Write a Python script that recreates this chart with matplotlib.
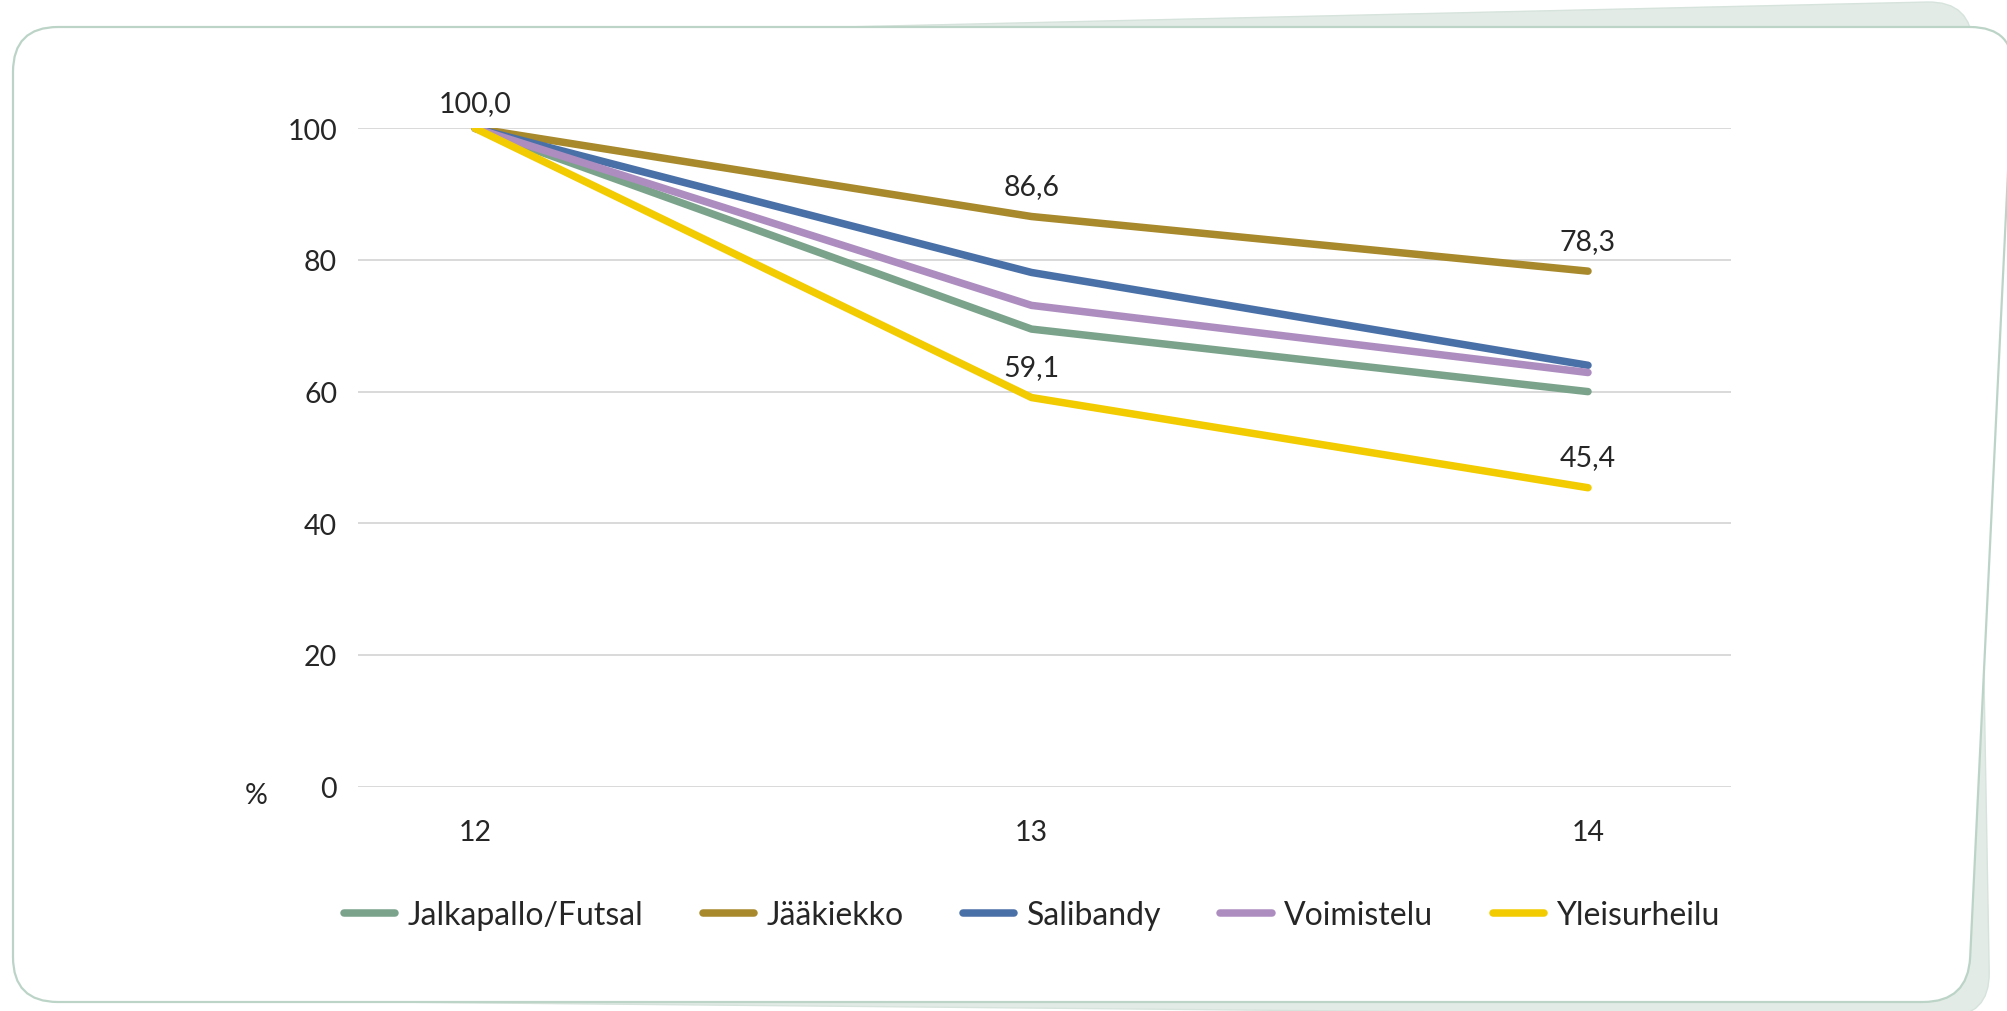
import matplotlib
matplotlib.use("Agg")
import matplotlib.pyplot as plt
import numpy as np
from matplotlib.path import Path
from matplotlib.patches import PathPatch
from matplotlib.lines import Line2D

plt.rcParams['font.family'] = ['Lato', 'DejaVu Sans']

# --- data -------------------------------------------------------------
ages = [12, 13, 14]
series_names = ["Jalkapallo/Futsal", "Jääkiekko", "Salibandy", "Voimistelu", "Yleisurheilu"]
jalkapallo = [100.0, 69.5, 60.0]
jaakiekko = [100.0, 86.6, 78.3]
salibandy = [100.0, 78.1, 64.0]
voimistelu = [100.0, 73.1, 62.9]
yleisurheilu = [100.0, 59.1, 45.4]
series_values = [jalkapallo, jaakiekko, salibandy, voimistelu, yleisurheilu]
series_colors = ["#7ba38b", "#a8892b", "#4a70a8", "#ad8dc0", "#f2cc00"]
y_ticks = [0, 20, 40, 60, 80, 100]

# labelled points: (series index, point index, vertical offset in points)
labelled = [(4, 0, 18), (1, 1, 22), (1, 2, 22), (4, 1, 22), (4, 2, 22)]

W, H = 2008, 1012
FS = 20.5
fig = plt.figure(figsize=(W / 100, H / 100), dpi=100)
fig.patch.set_facecolor("white")


def rounded_path(pts, r):
    """Closed path through pixel corners (y down) with rounded corners."""
    pts = [np.array(p, float) for p in pts]
    n = len(pts)
    verts, codes = [], []
    for i in range(n):
        p, prev, nxt = pts[i], pts[i - 1], pts[(i + 1) % n]
        a = p + r * (prev - p) / np.linalg.norm(prev - p)
        b = p + r * (nxt - p) / np.linalg.norm(nxt - p)
        verts.append(a)
        codes.append(Path.MOVETO if i == 0 else Path.LINETO)
        verts += [p, b]
        codes += [Path.CURVE3, Path.CURVE3]
    verts.append(verts[0]); codes.append(Path.CLOSEPOLY)
    verts = np.array(verts)
    verts[:, 0] /= W
    verts[:, 1] = 1 - verts[:, 1] / H
    return Path(verts, codes)


# card behind (tilted) and card in front
back = PathPatch(rounded_path([(60, 46), (1972, 2), (1990, 1018), (60, 1000)], 45),
                 transform=fig.transFigure, facecolor="#e3ebe6", edgecolor="#d6e3dc",
                 linewidth=1.0, zorder=0)
front = PathPatch(rounded_path([(13, 28), (2015, 28), (1968, 1003), (13, 1003)], 45),
                  transform=fig.transFigure, facecolor="white", edgecolor="#bcd4c8",
                  linewidth=1.6, zorder=1)
fig.patches.extend([back, front])

# --- axes -------------------------------------------------------------
left, right, top, bottom = 358, 1731, 129.3, 787.6
ax = fig.add_axes([left / W, 1 - bottom / H, (right - left) / W, (bottom - top) / H])
ax.patch.set_visible(False)
ax.set_zorder(2)

px_per_cat = (1588 - 475) / 2
ax.set_xlim(12 - (475 - left) / px_per_cat, 14 + (right - 1588) / px_per_cat)
ax.set_ylim(0, 100)

for name, vals, col in zip(series_names, series_values, series_colors):
    ax.plot(ages, vals, color=col, lw=5.4, solid_capstyle="round",
            solid_joinstyle="round", label=name, zorder=3)

for si, pi, dy in labelled:
    v = series_values[si][pi]
    ax.annotate(f"{v:.1f}".replace(".", ","), (ages[pi], v), xytext=(0, dy),
                textcoords="offset points", ha="center", va="center",
                fontsize=FS, color="#262626", zorder=4)

ax.set_yticks(y_ticks)
ax.set_xticks(ages)
ax.set_xticklabels([str(a) for a in ages])
ax.tick_params(axis="both", length=0, labelsize=FS, labelcolor="#262626")
ax.tick_params(axis="y", pad=15)
ax.tick_params(axis="x", pad=23)
ax.grid(axis="y", color="#cfcfcf", lw=1.1)
ax.set_axisbelow(True)
for s in ax.spines.values():
    s.set_visible(False)

fig.text(256 / W, 1 - 796 / H, "%", ha="center", va="center",
         fontsize=FS, color="#262626")

handles = [Line2D([], [], color=c, lw=5.4, solid_capstyle="round") for c in series_colors]
fig.legend(handles, series_names, loc="center", bbox_to_anchor=(1032 / W, 1 - 916 / H),
           ncol=5, frameon=False, fontsize=23, handlelength=1.6, handletextpad=0.4,
           columnspacing=1.85, labelcolor="#262626")

fig.savefig("out.png", dpi=100, facecolor="white")
